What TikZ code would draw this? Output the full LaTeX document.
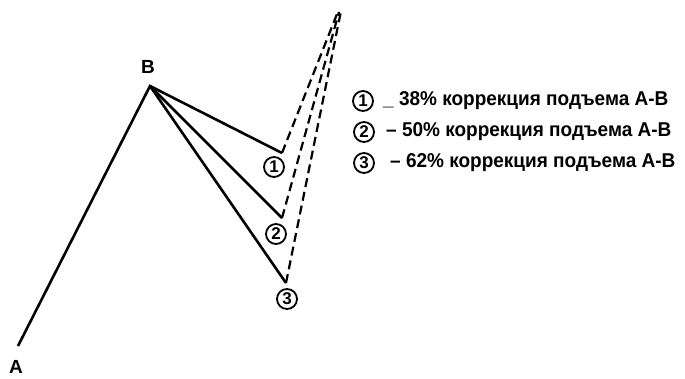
\documentclass[tikz,border=0pt]{standalone}
\usepackage{fontspec}
\setmainfont{Liberation Sans}
\begin{document}
\begin{tikzpicture}[x=1pt,y=-1pt,
  wave/.style={line width=2.6pt,line join=miter},
  proj/.style={line width=2.2pt,dash pattern=on 9pt off 5pt},
  lbl/.style={font=\bfseries\fontsize{19}{19}\selectfont,inner sep=0pt},
  num/.style={draw,circle,line width=1.8pt,minimum size=20pt,inner sep=0pt,font=\bfseries\fontsize{17}{17}\selectfont},
  legtext/.style={anchor=west,inner sep=0pt,font=\fontsize{20}{20}\selectfont\bfseries}]
\useasboundingbox (0,0) rectangle (685,379);
\coordinate (A) at (18,346);
\coordinate (B) at (150,86);
\coordinate (P1) at (282,153);
\coordinate (P2) at (282,218);
\coordinate (P3) at (286,283);
\coordinate (T1) at (337,14);
\coordinate (T2) at (339,12);
\coordinate (T3) at (341,11);
\node[lbl] (la) at (16,367) {A};
\node[lbl] (lb) at (148,67) {B};
\draw[wave] (A) -- (B) -- (P1);
\draw[wave] (B) -- (P2);
\draw[wave] (B) -- (P3);
\draw[proj] (P1) -- (T1);
\draw[proj] (P2) -- (T2);
\draw[proj] (P3) -- (T3);
\node[num] (c1) at (274,167) {1};
\node[num] (c2) at (276,234) {2};
\node[num] (c3) at (287,299) {3};
\node[num] (l1) at (363,101) {1};
\node[num] (l2) at (364,132) {2};
\node[num] (l3) at (364,163) {3};
\node[legtext] (t1) at (383,101) {\scalebox{0.95}[1]{\_ 38\% коррекция подъема А-В}};
\node[legtext] (t2) at (386,132) {\scalebox{0.95}[1]{– 50\% коррекция подъема А-В}};
\node[legtext] (t3) at (390,163) {\scalebox{0.95}[1]{– 62\% коррекция подъема А-В}};
\end{tikzpicture}
\end{document}
